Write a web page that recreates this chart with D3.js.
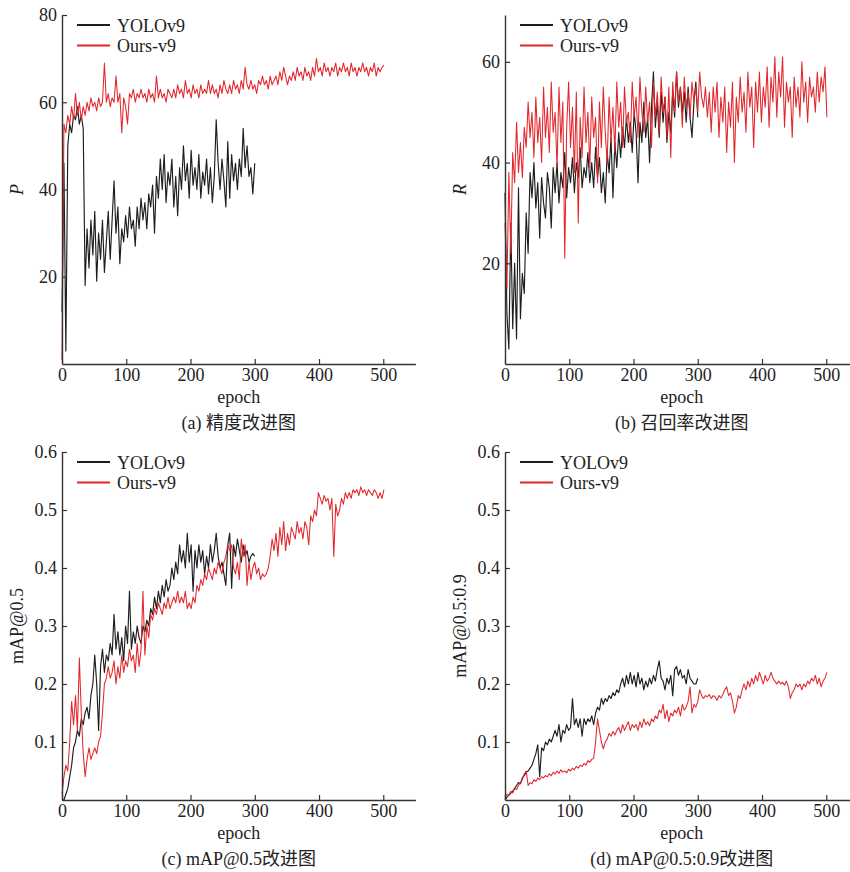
<!DOCTYPE html>
<html><head><meta charset="utf-8">
<script src="https://cdn.jsdelivr.net/npm/d3@7"></script>
<style>
body{margin:0;background:#fff}
svg{display:block}
text{font-family:"Liberation Serif","Times New Roman","Noto Sans CJK SC",serif;fill:#222}
</style>
</head><body>
<svg id="chart" width="850" height="872"></svg>
<script>
// ---------- data (one value every EPOCH_STEP epochs) ----------
const EPOCH_STEP = 3;
const seriesNames = ["YOLOv9", "Ours-v9"];
const xTicks = [0, 100, 200, 300, 400, 500];
const yTicksP = [20, 40, 60, 80];
const yTicksR = [20, 40, 60];
const yTicksMap = [0.1, 0.2, 0.3, 0.4, 0.5, 0.6];
const captions = ["(a) 精度改进图", "(b) 召回率改进图", "(c) mAP@0.5改进图", "(d) mAP@0.5:0.9改进图"];
const yLabels = ["P", "R", "mAP@0.5", "mAP@0.5:0.9"];

const yoloP = [12,46,3,50,55,53,57,56,59,55,
57,54,18,31,22,33,25,35,19,30,
24,33,21,28,35,24,33,42,30,36,
23,31,28,34,29,36,31,33,27,36,
31,38,33,37,31,39,36,41,30,43,
38,47,40,48,37,44,41,47,36,43,
34,45,40,50,42,46,38,49,41,45,
40,48,38,44,41,47,39,45,37,43,
56,46,40,47,42,36,51,38,48,42,
46,40,47,43,54,45,50,43,45,39,
46];
const oursP = [1,55,53,57,55,59,56,62,57,60,
56,59,57,60,58,61,59,60,58,61,
59,60,69,60,62,59,61,60,66,60,
62,53,61,59,55,62,61,63,60,62,
61,63,61,62,60,63,61,62,60,66,
61,63,61,62,60,63,62,61,63,61,
64,62,63,61,65,62,63,61,64,62,
63,61,64,62,63,62,65,62,64,62,
63,61,64,62,65,63,62,64,62,65,
63,64,62,65,63,68,64,63,65,63,
64,62,65,64,66,64,65,63,66,64,
65,66,64,67,65,68,66,64,66,65,
67,65,68,66,67,65,68,66,67,65,
68,66,70,67,68,66,69,67,68,66,
68,67,69,66,68,67,69,67,68,66,
69,67,68,66,68,67,69,67,68,66,
68,67,69,66,68,67,68,68.5];

const yoloR = [34,10,3,28,7,20,5,35,9,18,
14,30,22,38,33,40,31,36,25,37,
32,29,38,35,27,39,34,40,32,38,
35,42,33,39,36,41,34,40,37,43,
35,39,37,42,36,40,35,43,37,41,
34,38,32,42,38,45,33,44,39,46,
41,47,43,49,44,48,42,50,46,36,
48,44,52,45,49,40,51,58,47,52,
45,54,48,53,44,50,46,54,49,58,
51,55,50,54,48,55,49,45,52,56,
49];
const oursR = [28,15,38,22,42,36,48,38,44,37,
47,43,52,45,50,41,53,44,49,40,
55,45,51,42,56,46,50,39,55,44,
52,21,47,56,43,51,38,54,28,49,
41,55,44,50,39,53,45,49,36,52,
43,55,46,40,53,44,51,42,56,47,
52,43,55,48,50,44,56,49,53,45,
57,50,46,55,48,52,43,56,49,54,
46,57,50,53,45,55,41,56,50,58,
52,55,47,57,51,54,49,56,52,55,
50,58,53,51,55,49,54,46,55,50,
56,45,53,48,55,42,52,47,56,40,
53,48,57,50,54,46,58,51,55,43,
56,50,58,48,55,51,59,47,57,52,
61,49,58,53,61,47,56,52,55,45,
57,51,55,49,60,52,56,48,57,53,
55,50,58,52,57,54,59,49];

const yoloMap50 = [0,0,0.01,0.02,0.04,0.06,0.09,0.1,0.12,0.11,
0.14,0.13,0.15,0.16,0.14,0.18,0.2,0.25,0.2,0.12,
0.23,0.26,0.22,0.25,0.24,0.27,0.25,0.32,0.26,0.29,
0.25,0.28,0.24,0.3,0.27,0.36,0.26,0.29,0.27,0.3,
0.28,0.27,0.3,0.29,0.31,0.3,0.33,0.32,0.35,0.33,
0.36,0.34,0.37,0.35,0.38,0.36,0.37,0.4,0.38,0.41,
0.39,0.44,0.41,0.43,0.4,0.46,0.41,0.44,0.36,0.43,
0.4,0.44,0.41,0.43,0.39,0.42,0.4,0.44,0.41,0.43,
0.46,0.42,0.4,0.41,0.39,0.37,0.44,0.46,0.365,0.44,
0.42,0.45,0.43,0.41,0.44,0.42,0.43,0.41,0.42,0.425,
0.42];
const oursMap50 = [0.01,0.04,0.06,0.05,0.1,0.17,0.13,0.18,0.12,0.245,
0.15,0.08,0.04,0.07,0.09,0.07,0.08,0.09,0.08,0.1,
0.11,0.15,0.2,0.21,0.23,0.21,0.22,0.24,0.2,0.23,
0.21,0.25,0.22,0.24,0.23,0.26,0.24,0.25,0.22,0.27,
0.23,0.26,0.36,0.25,0.3,0.28,0.32,0.31,0.33,0.32,
0.34,0.33,0.32,0.34,0.33,0.35,0.33,0.34,0.35,0.34,
0.36,0.34,0.35,0.34,0.36,0.33,0.34,0.33,0.35,0.34,
0.37,0.36,0.38,0.37,0.39,0.38,0.4,0.39,0.38,0.4,
0.39,0.41,0.4,0.39,0.41,0.42,0.44,0.43,0.44,0.4,
0.39,0.41,0.38,0.45,0.42,0.44,0.37,0.41,0.38,0.4,
0.41,0.39,0.4,0.38,0.39,0.385,0.39,0.4,0.42,0.45,
0.43,0.46,0.42,0.47,0.44,0.48,0.43,0.46,0.44,0.47,
0.46,0.45,0.48,0.46,0.47,0.45,0.48,0.47,0.44,0.49,
0.48,0.5,0.49,0.53,0.52,0.51,0.525,0.515,0.52,0.5,
0.52,0.42,0.51,0.49,0.5,0.52,0.51,0.53,0.52,0.53,
0.52,0.535,0.53,0.535,0.525,0.54,0.53,0.535,0.525,0.535,
0.53,0.525,0.535,0.53,0.52,0.53,0.52,0.535];

const yoloMap5090 = [0,0.005,0.008,0.012,0.015,0.02,0.025,0.03,0.028,0.038,
0.042,0.048,0.05,0.055,0.06,0.07,0.08,0.095,0.04,0.09,
0.085,0.1,0.095,0.105,0.1,0.11,0.12,0.11,0.13,0.1,
0.12,0.115,0.13,0.12,0.125,0.175,0.13,0.14,0.125,0.14,
0.11,0.14,0.13,0.14,0.135,0.145,0.13,0.15,0.16,0.155,
0.175,0.165,0.175,0.17,0.18,0.175,0.185,0.18,0.19,0.185,
0.2,0.21,0.195,0.215,0.2,0.22,0.2,0.215,0.195,0.22,
0.2,0.21,0.19,0.205,0.195,0.21,0.2,0.215,0.205,0.225,
0.24,0.21,0.205,0.19,0.21,0.2,0.215,0.18,0.225,0.23,
0.215,0.225,0.21,0.215,0.2,0.225,0.21,0.205,0.2,0.2,
0.21];
const oursMap5090 = [0.005,0.01,0.008,0.015,0.012,0.02,0.018,0.025,0.03,0.035,
0.045,0.05,0.025,0.03,0.028,0.035,0.032,0.038,0.035,0.04,
0.038,0.042,0.04,0.045,0.042,0.048,0.045,0.05,0.046,0.052,
0.048,0.05,0.047,0.053,0.05,0.055,0.052,0.058,0.055,0.06,
0.058,0.063,0.06,0.068,0.065,0.07,0.072,0.1,0.14,0.12,
0.1,0.088,0.1,0.105,0.115,0.11,0.118,0.112,0.12,0.125,
0.115,0.13,0.12,0.128,0.135,0.12,0.13,0.125,0.13,0.12,
0.135,0.125,0.14,0.13,0.135,0.128,0.14,0.135,0.145,0.14,
0.155,0.15,0.165,0.14,0.155,0.135,0.15,0.145,0.155,0.15,
0.16,0.145,0.165,0.155,0.16,0.17,0.195,0.15,0.165,0.16,
0.17,0.19,0.18,0.175,0.18,0.178,0.182,0.175,0.18,0.178,
0.172,0.18,0.176,0.182,0.19,0.195,0.18,0.185,0.17,0.15,
0.16,0.18,0.175,0.19,0.2,0.19,0.205,0.195,0.21,0.2,
0.215,0.205,0.22,0.21,0.2,0.215,0.205,0.21,0.22,0.21,
0.205,0.2,0.205,0.2,0.203,0.198,0.205,0.195,0.175,0.185,
0.19,0.2,0.195,0.2,0.19,0.2,0.195,0.205,0.2,0.21,
0.205,0.215,0.2,0.21,0.195,0.205,0.21,0.22];

// ---------- layout ----------
const FONT = '"Liberation Serif","Times New Roman",serif';
const COLORS = ["#1e1e1e", "#e2262b"];
const panels = [
  {yolo: yoloP, ours: oursP, ticks: yTicksP, yDom: [0, 80], ox: 62, top: 15, bottom: 364, italic: true, fmt: d3.format("d")},
  {yolo: yoloR, ours: oursR, ticks: yTicksR, yDom: [0, 69.3], ox: 505, top: 15, bottom: 364, italic: true, fmt: d3.format("d")},
  {yolo: yoloMap50, ours: oursMap50, ticks: yTicksMap, yDom: [0, 0.6], ox: 62, top: 452, bottom: 800, italic: false, fmt: d3.format(".1f")},
  {yolo: yoloMap5090, ours: oursMap5090, ticks: yTicksMap, yDom: [0, 0.6], ox: 505, top: 452, bottom: 800, italic: false, fmt: d3.format(".1f")}
];

const svg = d3.select("#chart");

panels.forEach((p, i) => {
  const x = d3.scaleLinear().domain([0, 550]).range([p.ox, p.ox + 353.4]);
  const y = d3.scaleLinear().domain(p.yDom).range([p.bottom, p.top]);
  const g = svg.append("g");

  // lines (black first, red on top)
  const line = d3.line().x((d, k) => x(k * EPOCH_STEP)).y(d => y(d));
  [p.yolo, p.ours].forEach((arr, s) => {
    g.append("path").datum(arr)
      .attr("fill", "none")
      .attr("stroke", COLORS[s])
      .attr("stroke-width", s === 0 ? 1.15 : 1.05)
      .attr("stroke-linejoin", "round")
      .attr("d", line);
  });

  // axes
  const xAxis = d3.axisBottom(x).tickValues(xTicks).tickSizeInner(-5).tickSizeOuter(0).tickPadding(4);
  const yAxis = d3.axisLeft(y).tickValues(p.ticks).tickSizeInner(-5).tickSizeOuter(0).tickPadding(5).tickFormat(p.fmt);
  const gx = g.append("g").attr("transform", `translate(0,${p.bottom})`).call(xAxis);
  const gy = g.append("g").attr("transform", `translate(${p.ox},0)`).call(yAxis);
  [gx, gy].forEach(a => {
    a.attr("font-family", FONT).attr("font-size", 18);
    a.select(".domain").attr("stroke", "#333").attr("stroke-width", 1.4);
    a.selectAll(".tick line").attr("stroke", "#333").attr("stroke-width", 1.2);
    a.selectAll(".tick text").attr("fill", "#222").attr("font-family", FONT).attr("font-size", 18)
      .style("font-family", FONT);
  });

  // x label
  g.append("text").attr("x", x(275)).attr("y", p.bottom + 39)
    .attr("text-anchor", "middle").attr("font-size", 18).text("epoch");
  // caption
  g.append("text").attr("x", x(275)).attr("y", p.bottom + 65)
    .attr("text-anchor", "middle").attr("font-size", 18).text(captions[i]);
  // y label
  g.append("text")
    .attr("transform", `translate(${p.ox - 39},${(p.top + p.bottom) / 2}) rotate(-90)`)
    .attr("text-anchor", "middle").attr("font-size", 18)
    .attr("font-style", p.italic ? "italic" : "normal")
    .text(yLabels[i]);

  // legend
  seriesNames.forEach((name, s) => {
    const ly = p.top + 10 + s * 20.5;
    g.append("line").attr("x1", p.ox + 15).attr("x2", p.ox + 48)
      .attr("y1", ly).attr("y2", ly)
      .attr("stroke", COLORS[s]).attr("stroke-width", 2);
    g.append("text").attr("x", p.ox + 55).attr("y", ly + 6.5)
      .attr("font-size", 18).text(name);
  });
});
</script>
</body></html>
